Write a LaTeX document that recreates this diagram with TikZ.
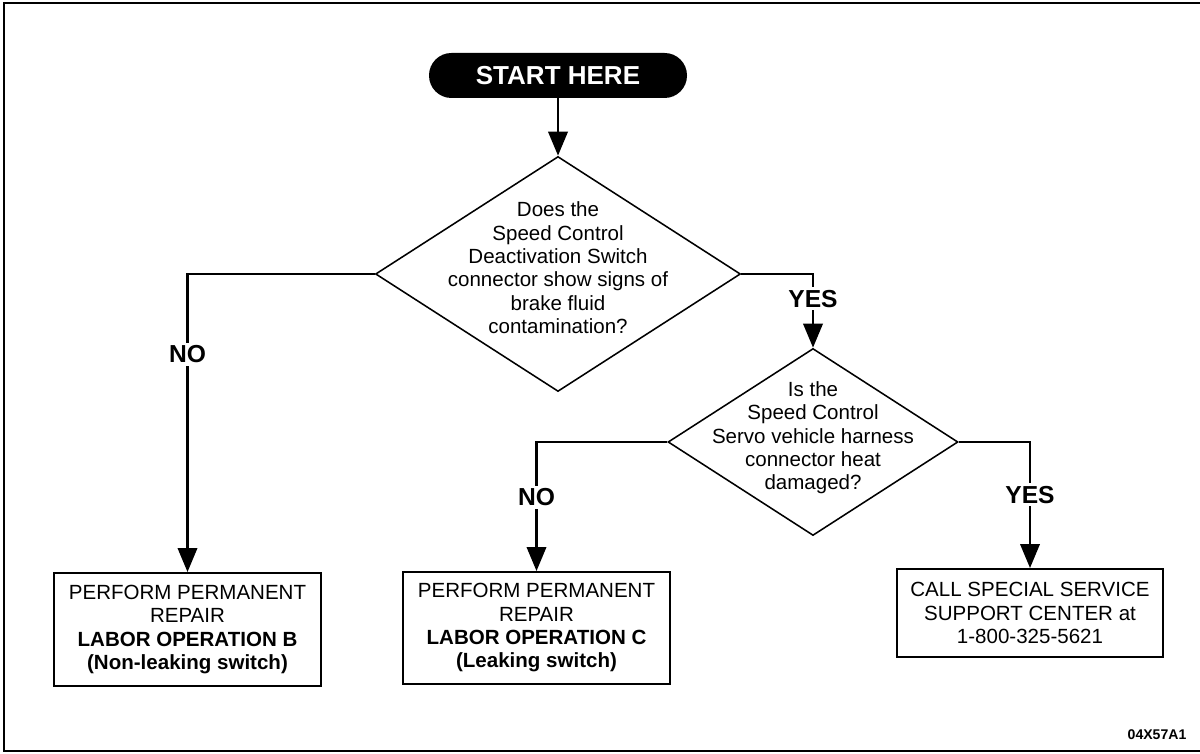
\documentclass[tikz,border=0pt]{standalone}
\usepackage{fontspec}
\setmainfont{Liberation Sans}
\usetikzlibrary{shapes.geometric,arrows.meta}

\begin{document}
\begin{tikzpicture}[
  font=\fontsize{14.6}{16.6}\selectfont,
  flow/.style={line width=2.1pt, -{Triangle[length=6mm,width=4.8mm]}},
  ask/.style={diamond, draw, line width=1.1pt, inner sep=0pt},
  qtext/.style={align=center},
  act/.style={draw, line width=1.3pt, align=center, inner sep=0pt},
  lbl/.style={fill=white, font=\fontsize{17.5}{19}\selectfont\bfseries, inner sep=2pt}
]
  \useasboundingbox (0,0) rectangle (30,18.825);
  % frame, open on the right
  \draw[line width=1.4pt] (30,18.75) -- (0.1,18.75) -- (0.1,0.05) -- (30,0.05);
  % start
  \node[fill=black, text=white, rounded corners=5.6mm, minimum width=6.45cm,
        minimum height=1.125cm, font=\fontsize{18.5}{20}\selectfont\bfseries]
        (start) at (13.95,16.9375) {START HERE};
  % first question
  \node[ask, minimum width=9.125cm, minimum height=5.875cm] (q1) at (13.95,11.975) {};
  \node[qtext] (q1txt) at ([yshift=1.5mm]q1.center)
        {Does the\\Speed Control\\Deactivation Switch\\connector show signs of\\brake fluid\\contamination?};
  % second question
  \node[ask, minimum width=7.25cm, minimum height=4.675cm] (q2) at (20.325,7.775) {};
  \node[qtext] (q2txt) at ([yshift=1mm]q2.center)
        {Is the\\Speed Control\\Servo vehicle harness\\connector heat\\damaged?};
  % results
  \node[act, minimum width=6.675cm, minimum height=2.825cm] (opb) at (4.6875,3.0875)
        {PERFORM PERMANENT\\REPAIR\\\textbf{LABOR OPERATION B}\\\textbf{(Non-leaking switch)}};
  \node[act, minimum width=6.675cm, minimum height=2.8cm] (opc) at (13.4125,3.125)
        {PERFORM PERMANENT\\REPAIR\\\textbf{LABOR OPERATION C}\\\textbf{(Leaking switch)}};
  \node[act, minimum width=6.65cm, minimum height=2.2cm] (ssc) at (25.75,3.5)
        {CALL SPECIAL SERVICE\\SUPPORT CENTER at\\1-800-325-5621};
  \node[font=\fontsize{10}{12}\selectfont\bfseries] (code) at (28.925,0.45) {04X57A1};
  % connectors
  \draw[flow] (start.south) -- (q1.north);
  \draw[flow] (q1.west) -| node[lbl, pos=0.635] {NO} (opb.north);
  \draw[flow] (q1.east) -| node[lbl, pos=0.667] {YES} (q2.north);
  \draw[flow] (q2.west) -| node[lbl, pos=0.715] {NO} (opc.north);
  \draw[flow] (q2.east) -| node[lbl, pos=0.71] {YES} (ssc.north);
\end{tikzpicture}
\end{document}
